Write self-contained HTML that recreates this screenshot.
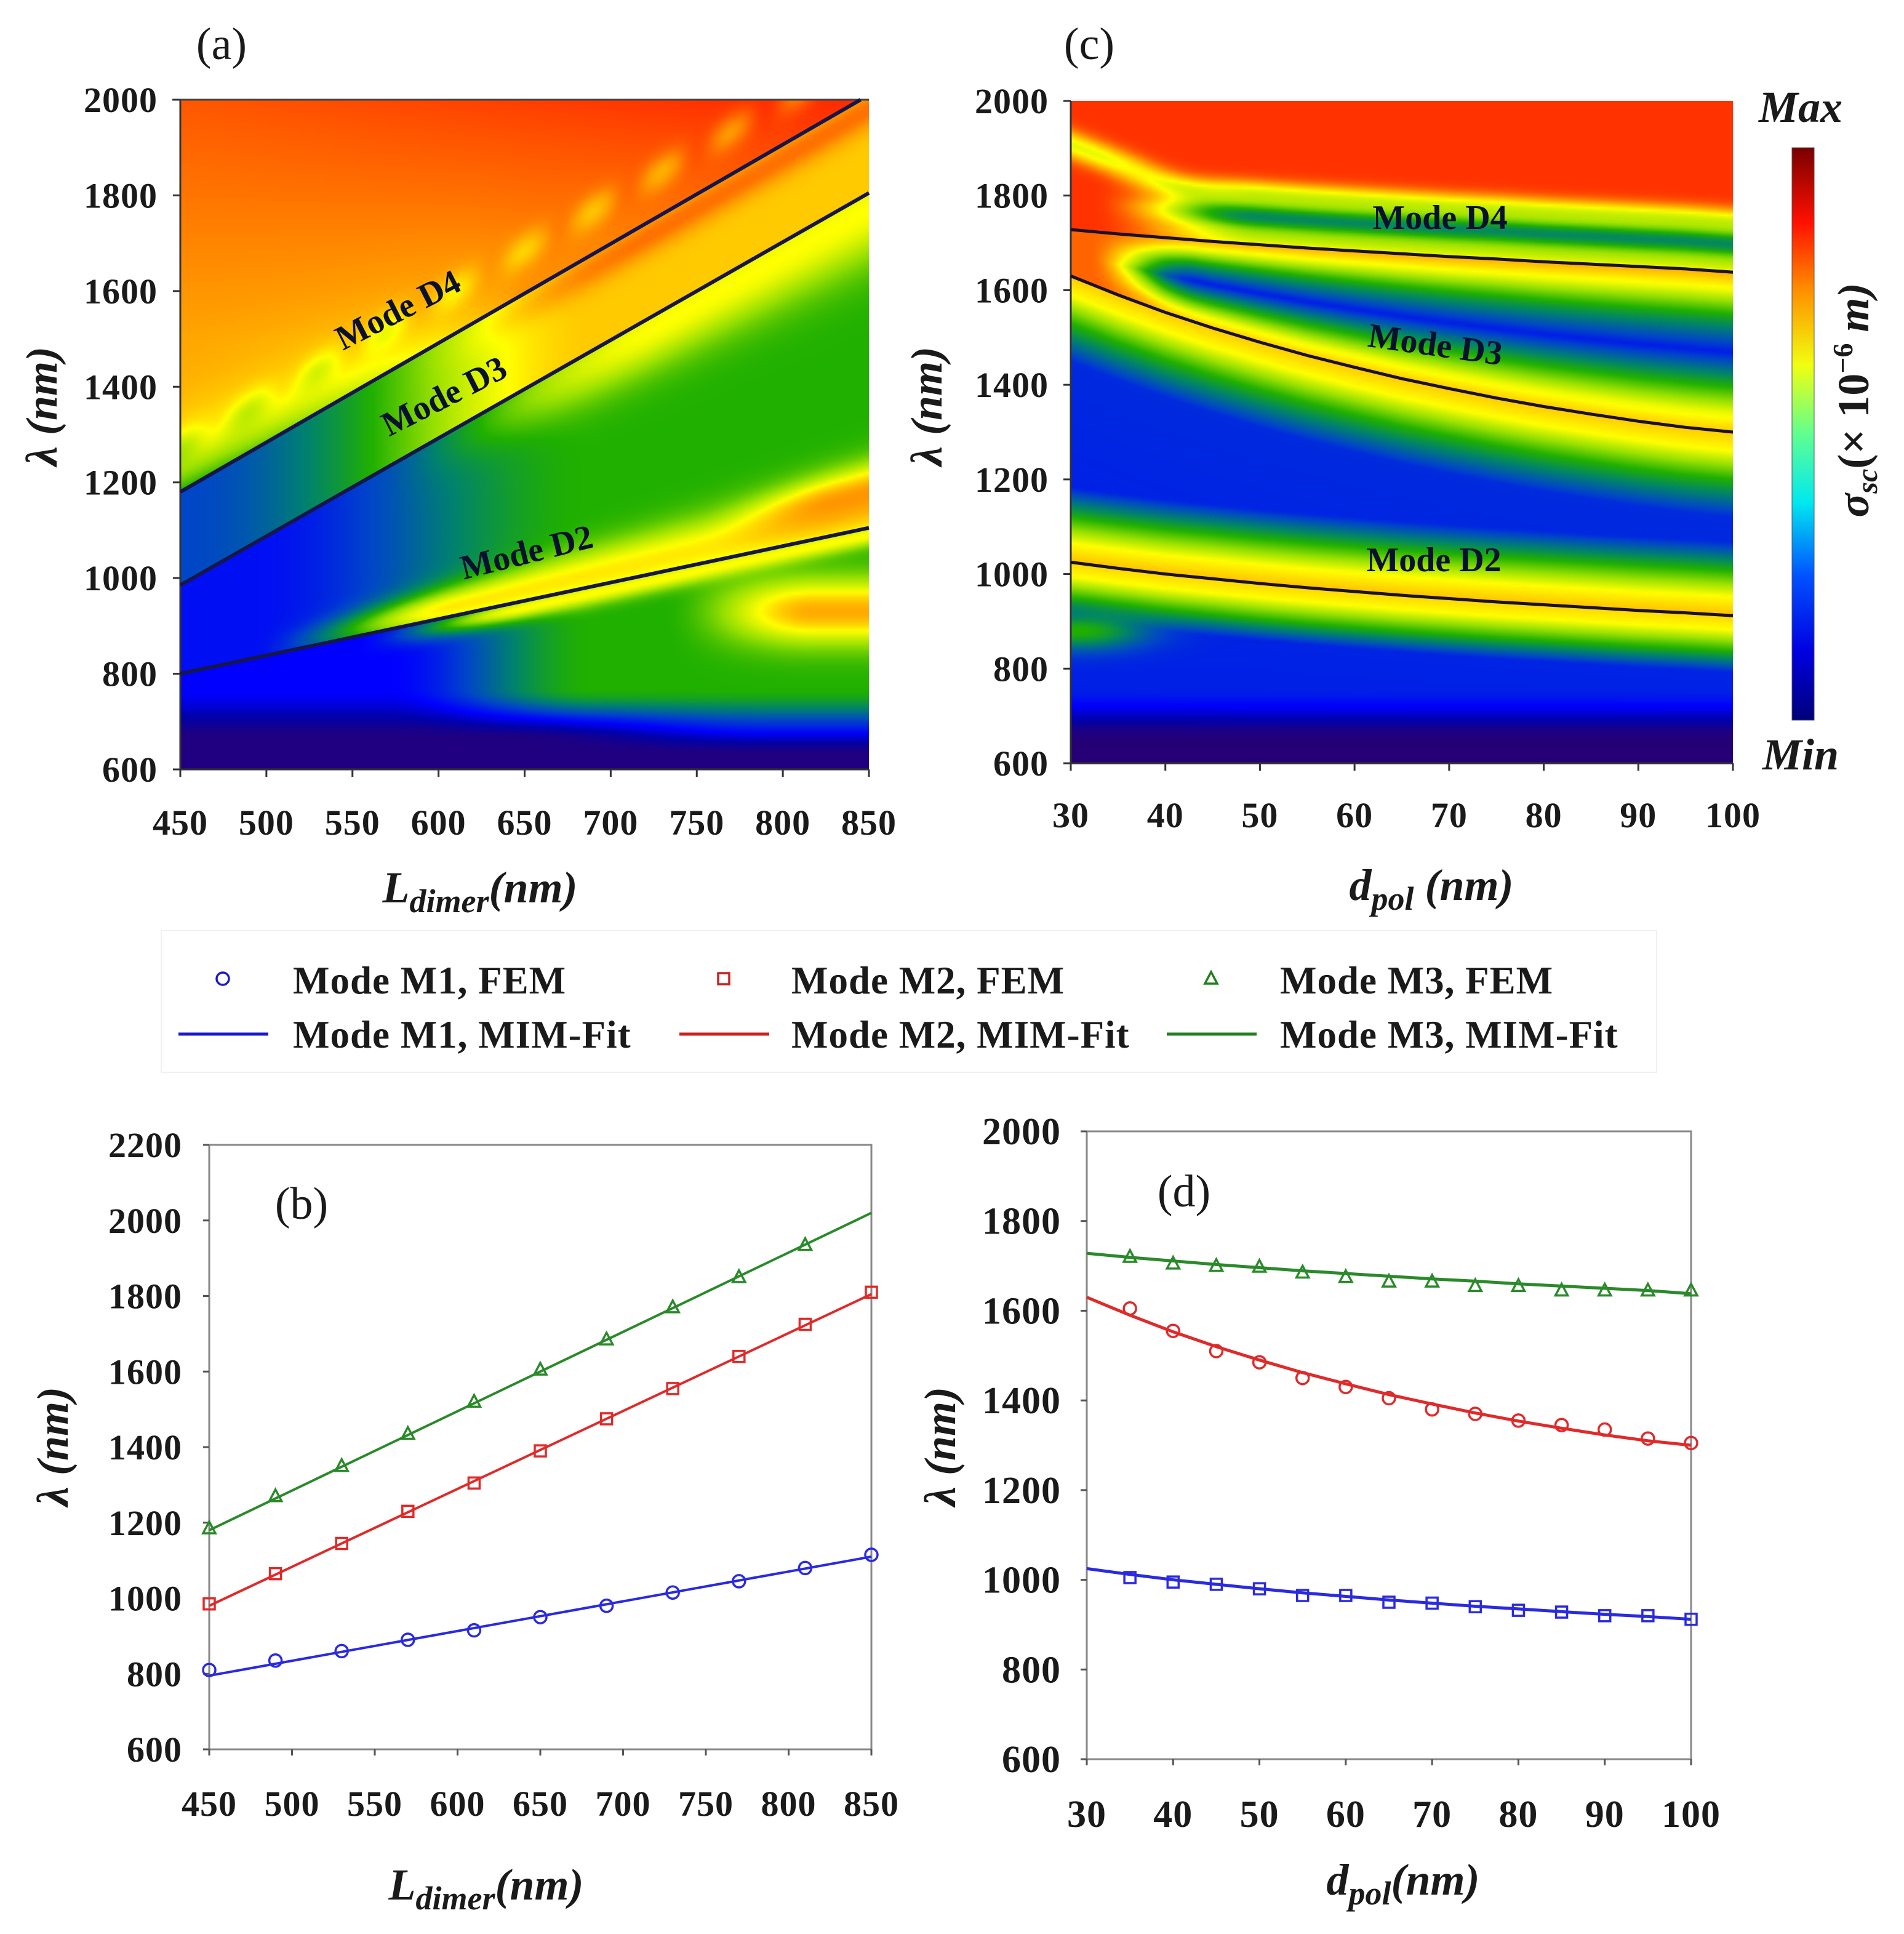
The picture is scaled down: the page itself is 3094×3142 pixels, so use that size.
<!DOCTYPE html>
<html><head><meta charset="utf-8"><style>
html,body{margin:0;padding:0;background:#fff;}
#root{position:relative;width:3094px;height:3142px;overflow:hidden;background:#fff;}
canvas{position:absolute;}
svg{position:absolute;left:0;top:0;}
text{font-family:"Liberation Serif",serif;fill:#1a1a1a;}
.tk{font-size:58px;font-weight:bold;letter-spacing:1px;}
.tkd{font-size:62px;font-weight:bold;letter-spacing:1px;}
.ttl{font-size:72px;font-weight:bold;font-style:italic;}
.pl{font-size:74px;}
.md{font-size:56px;font-weight:bold;fill:#0a1030;}
.lg{font-size:63px;font-weight:bold;letter-spacing:1px;}
</style></head><body>
<div id="root">
<canvas id="cva" width="280" height="272" style="left:293px;top:162px;width:1119px;height:1088px;"></canvas>
<canvas id="cvc" width="270" height="270" style="left:1740px;top:164px;width:1076px;height:1076px;"></canvas>
<svg id="svg" width="3094" height="3142" viewBox="0 0 3094 3142" xmlns="http://www.w3.org/2000/svg">
<defs>
<linearGradient id="cbg" x1="0" y1="1" x2="0" y2="0">
<stop offset="0" stop-color="#00007a"/><stop offset="0.12" stop-color="#0000e0"/><stop offset="0.25" stop-color="#0050ff"/>
<stop offset="0.38" stop-color="#00e8f0"/><stop offset="0.5" stop-color="#60ff90"/><stop offset="0.62" stop-color="#f0ff10"/>
<stop offset="0.75" stop-color="#ff9000"/><stop offset="0.87" stop-color="#ff1000"/><stop offset="1" stop-color="#780000"/>
</linearGradient>
</defs>
<g id="layer"></g>
</svg>
</div>
<script>
// ---------- data ----------
const bX = [450,490,530,570,610,650,690,730,770,810,850];
const bM1 = [810,835,860,890,915,950,980,1015,1045,1080,1115];
const bM2 = [985,1065,1145,1230,1305,1390,1475,1555,1640,1725,1810];
const bM3X = [450,490,530,570,610,650,690,730,770,810];
const bM3 = [1185,1270,1350,1435,1520,1605,1685,1770,1850,1935];
const bFitX = [450,850];
const bFit1 = [795,1110];
const bFit2 = [980,1805];
const bFit3 = [1180,2020];
const dX = [35,40,45,50,55,60,65,70,75,80,85,90,95,100];
const dM1 = [1005,995,990,980,965,965,950,948,940,932,928,920,920,912];
const dM2 = [1605,1555,1510,1485,1450,1430,1405,1380,1370,1355,1345,1335,1315,1305];
const dM3 = [1720,1705,1700,1698,1685,1675,1665,1665,1655,1655,1645,1645,1645,1645];
const fitX = [30,35,40,45,50,55,60,65,70,75,80,85,90,95,100];
const fit1 = [1025,1012,1000,990,980,971,963,955,948,941,935,929,923,918,912];
const fit2 = [1630,1590,1553,1520,1490,1462,1437,1413,1392,1372,1354,1338,1323,1310,1300];
const fit3 = [1728,1719,1711,1703,1696,1689,1683,1677,1671,1666,1660,1655,1650,1645,1638];
const aLineX = [450,850];
const aD4 = [1180,2010];
const aD3 = [985,1805];
const aD2 = [800,1105];
const aXTicks = [450,500,550,600,650,700,750,800,850];
const aYTicks = [600,800,1000,1200,1400,1600,1800,2000];
const cXTicks = [30,40,50,60,70,80,90,100];
const bYTicks = [600,800,1000,1200,1400,1600,1800,2000,2200];
const dYTicks = [600,800,1000,1200,1400,1600,1800,2000];

// ---------- scales ----------
const xa = L => 293 + (L-450)/400*1119, ya = v => 1250 - (v-600)/1400*1088;
const xc = d => 1740 + (d-30)/70*1076, yc = v => 1240 - (v-600)/1400*1076;
const xb = L => 340 + (L-450)/400*1076, yb = v => 2842 - (v-600)/1600*982;
const xd = d => 1766 + (d-30)/70*982, yd = v => 2858 - (v-600)/1400*1020;

const NS = 'http://www.w3.org/2000/svg';
const layer = document.getElementById('layer');
function mk(tag, attrs, parent){ const e=document.createElementNS(NS,tag); for(const k in attrs) e.setAttribute(k,attrs[k]); (parent||layer).appendChild(e); return e; }
function txt(x,y,s,cls,anchor,parent){ const e=mk('text',{x:x,y:y,class:cls,'text-anchor':anchor||'middle'},parent); e.textContent=s; return e; }

// ---------- colormap ----------
const stops=[[0,[48,0,96]],[0.06,[32,0,128]],[0.12,[0,0,170]],[0.2,[0,0,255]],[0.3,[0,70,200]],[0.4,[0,130,110]],[0.5,[32,176,0]],[0.6,[150,224,0]],[0.7,[255,255,0]],[0.8,[255,150,0]],[0.88,[255,50,0]],[0.95,[224,0,0]],[1,[128,0,0]]];
function cmap(v){ v=Math.max(0,Math.min(1,v)); for(let i=1;i<stops.length;i++){ if(v<=stops[i][0]){ const a=stops[i-1],b=stops[i]; const t=(v-a[0])/(b[0]-a[0]); return [0,1,2].map(k=>a[1][k]+(b[1][k]-a[1][k])*t);} } return stops[stops.length-1][1]; }
const cl=(x,a=0,b=1)=>Math.max(a,Math.min(b,x));
const sm=(e0,e1,x)=>{const t=cl((x-e0)/(e1-e0));return t*t*(3-2*t);};
const bump=(x,c,w)=>Math.exp(-((x-c)/w)*((x-c)/w));
function interp(xs,ys,x){ if(x<=xs[0]) return ys[0]; for(let i=1;i<xs.length;i++){ if(x<=xs[i]){const t=(x-xs[i-1])/(xs[i]-xs[i-1]); return ys[i-1]+(ys[i]-ys[i-1])*t;} } return ys[ys.length-1]; }
function pw(pts,x){ return interp(pts.map(p=>p[0]),pts.map(p=>p[1]),x); }

// ---------- field (a) ----------
function fieldA(L,lam){
  const t=(L-450)/400;
  const D4=interp(aLineX,aD4,L), D3=interp(aLineX,aD3,L), D2=interp(aLineX,aD2,L);
  let v;
  if(lam>=D4){ const u=lam-D4; v=0.79+0.06*cl((lam-1500)/500)+0.04*t*cl((lam-1700)/300);
    v-=0.3*Math.exp(-u/80)*cl(1-t/0.5);
    v-=0.07*bump(u,90,35)*(0.5+0.5*Math.cos(2*Math.PI*(L-450)/40)); }
  else if(lam>=D3){ const s=(lam-D3)/(D4-D3); v=0.3+0.45*sm(0.0,0.6,t)+0.08*bump(s,0.85,0.2)*sm(0.3,0.7,t); }
  else if(lam>=D2){ const s=(lam-D2)/(D3-D2); v=0.22+0.28*sm(0.1,0.6,t);
    v+=(0.72-v)*bump(s,0.05,0.12)*sm(0.1,0.4,t); v+=(0.7-v)*bump(s,0.95,0.16)*sm(0.3,0.7,t);
    v+=(0.8-v)*bump(s,0.1,0.08)*sm(0.75,0.95,t); }
  else { const e=D2-lam; let g=0.2+0.3*sm(0.3,0.6,t);
    g+=(0.78-g)*sm(0.7,0.92,t)*bump(lam,930,70); g+=(0.7-g)*bump(e,15,25)*sm(0.25,0.5,t);
    const f=sm(660,770,lam); const bv=0.06+0.14*sm(0.5,0.85,t)*sm(630,690,lam); v=bv+(g-bv)*f; }
  return v;
}
// ---------- field (c) ----------
function fieldC(d,lam){
  const D4=interp(fitX,fit3,d), D3=interp(fitX,fit2,d), D2=interp(fitX,fit1,d);
  let v;
  if(lam>=D4){ const u=lam-D4;
    const vr=0.88-0.2*bump(u,10,30)-0.45*bump(u,60,30)-0.2*bump(u,110,25);
    const vl=0.88-0.2*bump(u,120+(40-d)*6,30);
    const a=sm(32,50,d); v=vl+(vr-vl)*a; }
  else if(lam>=D3){ const s=(lam-D3)/(D4-D3); const gap=D4-D3;
    const p=pw([[0,0.75],[0.12,0.68],[0.3,0.48],[0.5,0.24],[0.7,0.45],[0.88,0.68],[1,0.78]],s);
    const k=sm(110,175,gap); v=0.84+(p-0.84)*k; }
  else { const w=D3-lam, e=lam-D2;
    let q=pw([[0,0.75],[40,0.7],[100,0.5],[180,0.26],[1000,0.22]],w);
    if(e>=0){ q=Math.max(q,pw([[0,0.76],[40,0.7],[95,0.5],[160,0.24],[1000,0.22]],e)); v=q; }
    else { const e2=-e; v=pw([[0,0.74],[30,0.7],[75,0.5],[120,0.25],[1000,0.22]],e2);
      v+=(0.5-v)*bump(d,31,7)*bump(lam,880,40);
      const f=sm(640,760,lam); v=0.04+(v-0.04)*f; } }
  return v;
}
function paint(id,f,x0,x1){
  const c=document.getElementById(id), ctx=c.getContext('2d'); const W=c.width,H=c.height;
  const im=ctx.createImageData(W,H);
  for(let j=0;j<H;j++) for(let i=0;i<W;i++){
    const x=x0+(i+0.5)/W*(x1-x0), lam=2000-(j+0.5)/H*1400;
    const col=cmap(f(x,lam)); const o=(j*W+i)*4; im.data[o]=col[0];im.data[o+1]=col[1];im.data[o+2]=col[2];im.data[o+3]=255; }
  ctx.putImageData(im,0,0);
}
paint('cva',fieldA,450,850);
paint('cvc',fieldC,30,100);

// ---------- panel (a) ----------
const ga=mk('g',{});


mk('line',{x1:293,y1:162,x2:293,y2:1250,stroke:'#333','stroke-width':3},ga);
mk('line',{x1:293,y1:1250,x2:1412,y2:1250,stroke:'#333','stroke-width':3},ga);
mk('line',{x1:280,y1:162,x2:1412,y2:162,stroke:'#444','stroke-width':3},ga);
aYTicks.forEach(v=>{ mk('line',{x1:281,y1:ya(v),x2:293,y2:ya(v),stroke:'#333','stroke-width':3},ga); const t=txt(256,ya(v)+20,String(v),'tk','end',ga);   });
aXTicks.forEach(v=>{ mk('line',{x1:xa(v),y1:1250,x2:xa(v),y2:1262,stroke:'#333','stroke-width':3},ga); const t=txt(xa(v),1356,String(v),'tk','middle',ga);   });
[[aD4,'mode-d4-line'],[aD3,'mode-d3-line'],[aD2,'mode-d2-line']].forEach(([arr,nm])=>{
  let x2=850,y2=arr[1]; if(y2>2000){ x2=450+(2000-arr[0])/(arr[1]-arr[0])*400; y2=2000; }
  const l=mk('line',{x1:xa(450),y1:ya(arr[0]),x2:xa(x2),y2:ya(y2),stroke:'#16164a','stroke-width':6},ga);
    });
function rotText(x,y,ang,s,cls,nm,parent){ const t=mk('text',{x:0,y:0,class:cls,'text-anchor':'middle',transform:`translate(${x},${y}) rotate(${ang})`},parent); t.textContent=s;   return t; }
rotText(655,520,-27,'Mode D4','md','label-mode-d4',ga);
rotText(730,660,-27,'Mode D3','md','label-mode-d3',ga);
rotText(860,915,-14,'Mode D2','md','label-mode-d2',ga);
const pa=txt(360,96,'(a)','pl','middle',ga);  

function lamLabel(x,y,nm){ const t=mk('text',{x:0,y:0,class:'ttl','text-anchor':'middle',transform:`translate(${x},${y}) rotate(-90)`}); t.textContent='λ (nm)';   }
function subTitle(x,y,main,sub,rest,nm){ const t=mk('text',{x:x,y:y,class:'ttl','text-anchor':'middle'});  
  const a=mk('tspan',{},t); a.textContent=main; const b=mk('tspan',{dy:16,'font-size':'54'},t); b.textContent=sub; const c=mk('tspan',{dy:-16},t); c.textContent=rest; }
lamLabel(92,660,'y-axis-title-a');
subTitle(780,1466,'L','dimer','(nm)','x-axis-title-a');

// ---------- panel (c) ----------
const gc=mk('g',{});


mk('line',{x1:1740,y1:164,x2:1740,y2:1240,stroke:'#333','stroke-width':3},gc);
mk('line',{x1:1740,y1:1240,x2:2816,y2:1240,stroke:'#333','stroke-width':3},gc);
aYTicks.forEach(v=>{ mk('line',{x1:1728,y1:yc(v),x2:1740,y2:yc(v),stroke:'#333','stroke-width':3},gc); const t=txt(1704,yc(v)+20,String(v),'tk','end',gc);   });
cXTicks.forEach(v=>{ mk('line',{x1:xc(v),y1:1240,x2:xc(v),y2:1252,stroke:'#333','stroke-width':3},gc); const t=txt(xc(v),1344,String(v),'tk','middle',gc);   });
[[fit3,'mode-d4-curve'],[fit2,'mode-d3-curve'],[fit1,'mode-d2-curve']].forEach(([arr,nm])=>{
  const p=mk('polyline',{points:fitX.map((x,i)=>xc(x)+','+yc(arr[i])).join(' '),fill:'none',stroke:'#1a1030','stroke-width':5},gc);
    });
rotText(2340,372,0,'Mode D4','md','label-mode-d4-c',gc);
rotText(2330,578,8,'Mode D3','md','label-mode-d3-c',gc);
rotText(2330,928,0,'Mode D2','md','label-mode-d2-c',gc);
const pc=txt(1770,96,'(c)','pl','middle',gc);  
lamLabel(1530,660,'y-axis-title-c');
subTitle(2326,1462,'d','pol',' (nm)','x-axis-title-c');
// colorbar
const cb=mk('rect',{x:2912,y:240,width:36,height:930,fill:'url(#cbg)',stroke:'#555','stroke-width':1});
 
const mx=txt(2926,198,'Max','ttl','middle'); mx.setAttribute('font-size','52');  
const mn=txt(2926,1250,'Min','ttl','middle'); mn.setAttribute('font-size','52');  
(function(){ const t=mk('text',{x:0,y:0,class:'ttl','text-anchor':'middle',transform:'translate(3036,650) rotate(-90)'});  
  const a=mk('tspan',{},t); a.textContent='σ'; const b=mk('tspan',{dy:14,'font-size':'48'},t); b.textContent='sc'; const c=mk('tspan',{dy:-14,'font-style':'normal'},t); c.textContent='(× 10';
  const d=mk('tspan',{dy:-26,'font-size':'46','font-style':'normal'},t); d.textContent='−6'; const e=mk('tspan',{dy:26},t); e.textContent=' m)'; })();

// ---------- legend ----------
const gl=mk('g',{});


mk('rect',{x:262,y:1512,width:2430,height:230,fill:'none',stroke:'#f0f0f0','stroke-width':2},gl);
function circ(x,y,col,g){ return mk('circle',{cx:x,cy:y,r:10,fill:'none',stroke:col,'stroke-width':3.5},g); }
function sq(x,y,col,g){ return mk('rect',{x:x-9,y:y-9,width:18,height:18,fill:'none',stroke:col,'stroke-width':3.5},g); }
function tri(x,y,col,g){ return mk('polygon',{points:`${x},${y-11} ${x+10},${y+8} ${x-10},${y+8}`,fill:'none',stroke:col,'stroke-width':3.5},g); }
const legItems=[[362,'#1a1acc','circ','Mode M1, FEM','Mode M1, MIM-Fit',290,476],[1176,'#cc2020','sq','Mode M2, FEM','Mode M2, MIM-Fit',1104,1286],[1968,'#208020','tri','Mode M3, FEM','Mode M3, MIM-Fit',1896,2080]];
legItems.forEach(it=>{ const [mxp,col,shape,t1,t2,lx,tx]=it;
  const e1=mk('g',{},gl);  
  if(shape==='circ') circ(mxp,1590,col,e1); else if(shape==='sq') sq(mxp,1590,col,e1); else tri(mxp,1590,col,e1);
  txt(tx,1614,t1,'lg','start',e1);
  const e2=mk('g',{},gl);  
  mk('line',{x1:lx,y1:1680,x2:lx+146,y2:1680,stroke:col,'stroke-width':5},e2);
  txt(tx,1702,t2,'lg','start',e2); });

// ---------- panel (b) ----------
const gb=mk('g',{});


mk('rect',{x:340,y:1860,width:1076,height:982,fill:'none',stroke:'#888','stroke-width':3},gb);
bYTicks.forEach(v=>{ mk('line',{x1:330,y1:yb(v),x2:340,y2:yb(v),stroke:'#555','stroke-width':3},gb); const t=txt(296,yb(v)+20,String(v),'tk','end',gb);   });
aXTicks.forEach(v=>{ mk('line',{x1:xb(v),y1:2842,x2:xb(v),y2:2852,stroke:'#555','stroke-width':3},gb); const t=txt(xb(v),2950,String(v),'tk','middle',gb);   });
[[bFit3,'#2a8a2a','m3-fit-line'],[bFit2,'#e02a2a','m2-fit-line'],[bFit1,'#2a2ae0','m1-fit-line']].forEach(([arr,col,nm])=>{
  const l=mk('line',{x1:xb(bFitX[0]),y1:yb(arr[0]),x2:xb(bFitX[1]),y2:yb(arr[1]),stroke:col,'stroke-width':4},gb);   });
bX.forEach((x,i)=>{ const m=circ(xb(x),yb(bM1[i]),'#2a2ae0',gb);   });
bX.forEach((x,i)=>{ const m=sq(xb(x),yb(bM2[i]),'#e02a2a',gb);   });
bM3X.forEach((x,i)=>{ const m=tri(xb(x),yb(bM3[i]),'#2a8a2a',gb);   });
const pb=txt(490,1980,'(b)','pl','middle',gb);  
lamLabel(110,2350,'y-axis-title-b');
subTitle(790,3086,'L','dimer','(nm)','x-axis-title-b');

// ---------- panel (d) ----------
const gd=mk('g',{});


mk('rect',{x:1766,y:1838,width:982,height:1020,fill:'none',stroke:'#888','stroke-width':3},gd);
dYTicks.forEach(v=>{ mk('line',{x1:1756,y1:yd(v),x2:1766,y2:yd(v),stroke:'#555','stroke-width':3},gd); const t=txt(1724,yd(v)+21,String(v),'tkd','end',gd);   });
cXTicks.forEach(v=>{ mk('line',{x1:xd(v),y1:2858,x2:xd(v),y2:2868,stroke:'#555','stroke-width':3},gd); const t=txt(xd(v),2968,String(v),'tkd','middle',gd);   });
[[fit3,'#2a8a2a','m3-fit-curve'],[fit2,'#e02a2a','m2-fit-curve'],[fit1,'#2a2ae0','m1-fit-curve']].forEach(([arr,col,nm])=>{
  const p=mk('polyline',{points:fitX.map((x,i)=>xd(x)+','+yd(arr[i])).join(' '),fill:'none',stroke:col,'stroke-width':5},gd);   });
dX.forEach((x,i)=>{ const m=sq(xd(x),yd(dM1[i]),'#2a2ae0',gd);   });
dX.forEach((x,i)=>{ const m=circ(xd(x),yd(dM2[i]),'#e02a2a',gd);   });
dX.forEach((x,i)=>{ const m=tri(xd(x),yd(dM3[i]),'#2a8a2a',gd);   });
const pd=txt(1924,1960,'(d)','pl','middle',gd);  
lamLabel(1552,2350,'y-axis-title-d');
subTitle(2280,3078,'d','pol','(nm)','x-axis-title-d');
</script>
</body></html>
